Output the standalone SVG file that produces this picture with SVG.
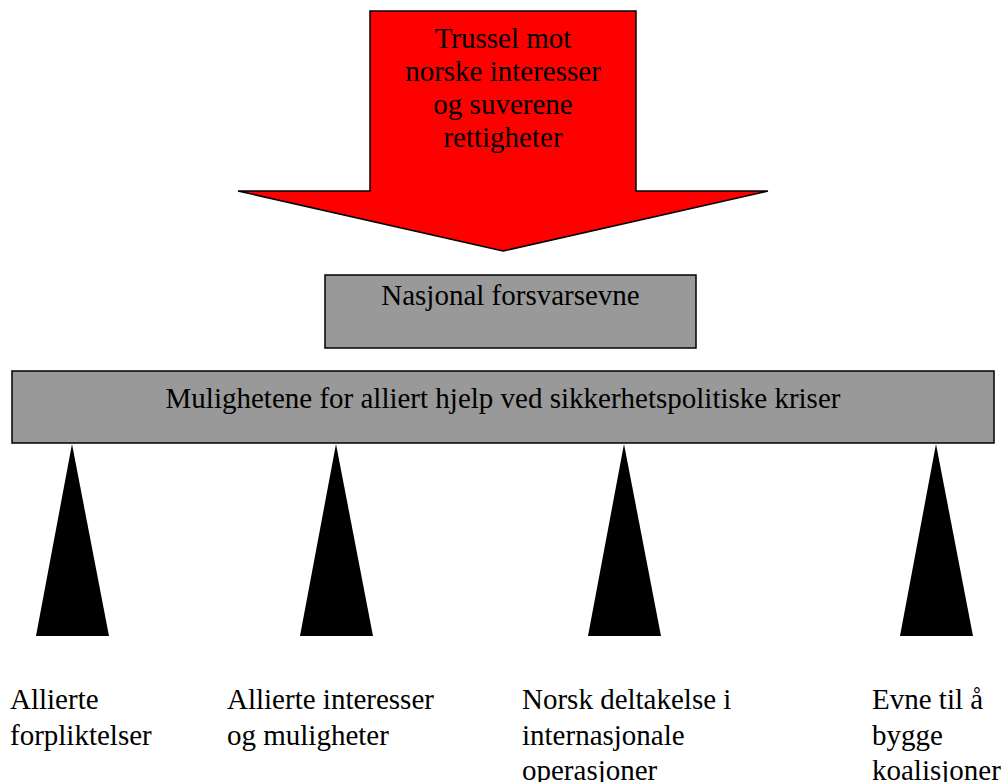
<svg xmlns="http://www.w3.org/2000/svg" width="1005" height="782" viewBox="0 0 1005 782">
<style>
text{font-family:'Liberation Serif','Times New Roman','DejaVu Serif',serif;font-size:29px;fill:#000}
.c{text-anchor:middle}
.box{fill:#999999;stroke:#000;stroke-width:1.5}
.tri{fill:#000;stroke:none}
</style>
<rect width="1005" height="782" fill="#fff"/>
<g id="threat">
<polygon points="370,11 636,11 636,191 768,191 503,251 238,191 370,191" fill="#ff0000" stroke="#000" stroke-width="1.5"/>
<text class="c" x="503" y="48" font-family="Liberation Serif">Trussel mot</text>
<text class="c" x="503" y="81">norske interesser</text>
<text class="c" x="503" y="114">og suverene</text>
<text class="c" x="503" y="147">rettigheter</text>
</g>
<g id="nasjonal">
<rect class="box" x="325" y="275" width="371" height="73"/>
<text class="c" x="510.5" y="305">Nasjonal forsvarsevne</text>
</g>
<g id="muligheter">
<rect class="box" x="12" y="371" width="982" height="72"/>
<text class="c" x="503" y="408">Mulighetene for alliert hjelp ved sikkerhetspolitiske kriser</text>
</g>
<g id="connectors">
<polygon class="tri" points="72,444 109,636 36,636"/>
<polygon class="tri" points="336,444 373,636 300,636"/>
<polygon class="tri" points="624,444 661,636 588,636"/>
<polygon class="tri" points="936,444 973,636 900,636"/>
</g>
<g id="pillar1">
<text x="10" y="709">Allierte</text>
<text x="10" y="745">forpliktelser</text>
</g>
<g id="pillar2">
<text x="227" y="709">Allierte interesser</text>
<text x="227" y="745">og muligheter</text>
</g>
<g id="pillar3">
<text x="522" y="709">Norsk deltakelse i</text>
<text x="522" y="745">internasjonale</text>
<text x="522" y="780">operasjoner</text>
</g>
<g id="pillar4">
<text x="872" y="709">Evne til å</text>
<text x="872" y="745">bygge</text>
<text x="872" y="780">koalisjoner</text>
</g>
</svg>
